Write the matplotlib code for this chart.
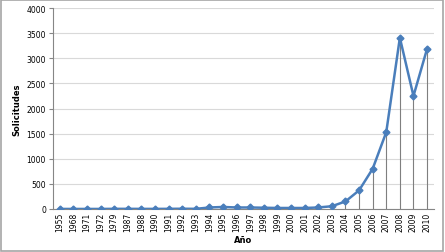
import matplotlib
matplotlib.use('Agg')
import matplotlib.pyplot as plt
from matplotlib.patches import Rectangle

years = ['1955', '1968', '1971', '1972', '1979', '1987', '1988', '1990', '1991',
         '1992', '1993', '1994', '1995', '1996', '1997', '1998', '1999', '2000',
         '2001', '2002', '2003', '2004', '2005', '2006', '2007', '2008', '2009',
         '2010']
solicitudes = [1, 1, 1, 1, 3, 3, 2, 2, 3, 5, 3, 30, 40, 30, 30, 25, 20, 20,
               20, 30, 55, 150, 370, 800, 1530, 3410, 2250, 3190]

fig = plt.figure(figsize=(4.45, 2.53), dpi=100)
fig.patches.append(Rectangle((0.002, 0.004), 0.994, 0.992, transform=fig.transFigure,
                             fill=False, edgecolor='#a6a6a6', linewidth=1.2))
ax = fig.add_axes([0.119, 0.170, 0.856, 0.794])

x = list(range(len(years)))
ax.vlines(x, 0, solicitudes, colors='#7f7f7f', linewidth=0.8, zorder=2)
ax.plot(x, solicitudes, '-', color='#4a7ebb', linewidth=1.8, marker='D',
        markersize=3.5, zorder=3)

ax.set_xlim(-0.5, len(years) - 0.5)
ax.set_ylim(0, 4000)
ax.set_yticks(range(0, 4001, 500))
ax.set_xticks(x)
ax.set_xticklabels(years, rotation=90, fontsize=5.5)
ax.tick_params(axis='y', labelsize=5.5, length=3, color='#868686', pad=2)
ax.tick_params(axis='x', length=0, pad=2)
ax.grid(axis='y', color='#d9d9d9', linewidth=0.8)
ax.set_axisbelow(True)
for s in ['top', 'right']:
    ax.spines[s].set_visible(False)
ax.spines['left'].set_color('#868686')
ax.spines['bottom'].set_color('#868686')
ax.set_xlabel('Año', fontsize=6, fontweight='bold', labelpad=3)
ax.set_ylabel('Solicitudes', fontsize=6, fontweight='bold', labelpad=4)

fig.savefig('out.png', dpi=100)
